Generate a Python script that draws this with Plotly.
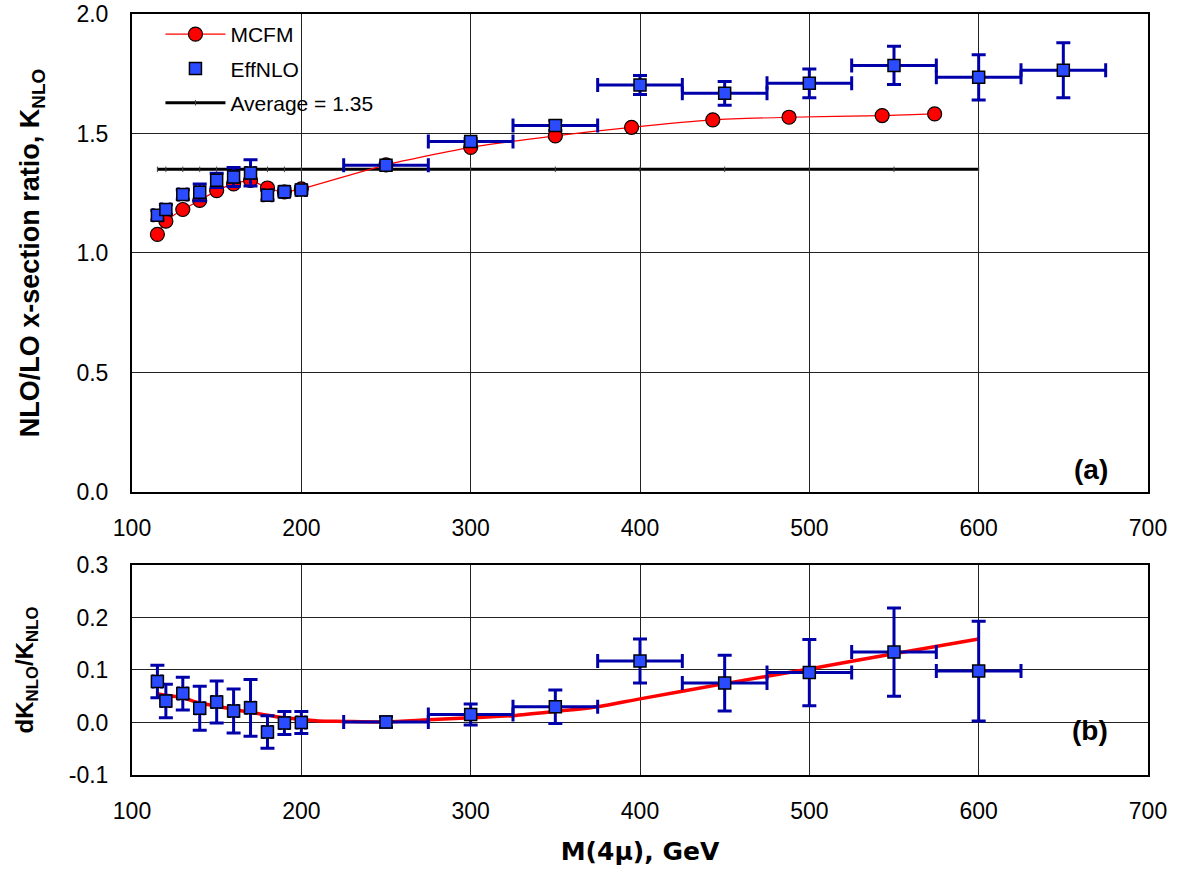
import plotly.graph_objects as go

# ---------------- data ----------------
# panel (a): K-factor
mcfm_mass = [115, 120, 130, 140, 150, 160, 170, 180, 190, 200, 250, 300, 350, 395, 443, 488, 543, 574]
mcfm_k = [1.078, 1.133, 1.182, 1.220, 1.261, 1.289, 1.304, 1.272, 1.256, 1.268, 1.369, 1.442, 1.490,
          1.526, 1.557, 1.568, 1.575, 1.582]

eff_mass = [115, 120, 130, 140, 150, 160, 170, 180, 190, 200, 250, 300, 350, 400, 450, 500, 550, 600, 650]
eff_k = [1.158, 1.182, 1.245, 1.254, 1.304, 1.318, 1.335, 1.242, 1.256, 1.264, 1.367, 1.467, 1.533,
         1.703, 1.668, 1.710, 1.785, 1.735, 1.765]
eff_k_err = [0.02, 0.02, 0.02, 0.035, 0.03, 0.04, 0.055, 0.02, 0.015, 0.015, 0.012, 0.012, 0.02,
             0.04, 0.05, 0.06, 0.08, 0.095, 0.115]
eff_mass_err = [2.5, 2.5, 2.5, 2.5, 2.5, 2.5, 2.5, 2.5, 2.5, 2.5, 25, 25, 25, 25, 25, 25, 25, 25, 25]

avg_mass = [115, 120, 130, 140, 150, 160, 170, 180, 190, 200, 250, 300, 350, 400, 450, 500, 550, 600]
avg_k = [1.35, 1.35, 1.35, 1.35, 1.35, 1.35, 1.35, 1.35, 1.35, 1.35, 1.35, 1.35, 1.35, 1.35, 1.35,
         1.35, 1.35, 1.35]

# panel (b): relative uncertainty dK/K
dk_mass = [115, 120, 130, 140, 150, 160, 170, 180, 190, 200, 250, 300, 350, 400, 450, 500, 550, 600]
dk_rel = [0.078, 0.041, 0.055, 0.027, 0.039, 0.022, 0.028, -0.018, -0.001, 0.0, 0.001, 0.015, 0.030,
          0.117, 0.075, 0.095, 0.134, 0.098]
dk_rel_err = [0.031, 0.032, 0.031, 0.042, 0.040, 0.042, 0.054, 0.031, 0.022, 0.021, 0.01, 0.02, 0.032,
              0.042, 0.053, 0.063, 0.084, 0.095]
dk_mass_err = [2.5, 2.5, 2.5, 2.5, 2.5, 2.5, 2.5, 2.5, 2.5, 2.5, 25, 25, 25, 25, 25, 25, 25, 25]

fit_mass = [115, 120, 130, 140, 150, 160, 170, 180, 190, 200, 210, 225, 250, 275, 300, 325, 350, 375,
            400, 450, 500, 550, 600]
fit_rel = [0.055, 0.052, 0.047, 0.037, 0.031, 0.025, 0.019, 0.014, 0.009, 0.006, 0.003, 0.002, 0.001,
           0.005, 0.009, 0.013, 0.021, 0.030, 0.045, 0.074, 0.102, 0.131, 0.159]

x_ticks = [100, 200, 300, 400, 500, 600, 700]
ya_ticks = [0.0, 0.5, 1.0, 1.5, 2.0]
ya_labels = ["0.0", "0.5", "1.0", "1.5", "2.0"]
yb_ticks = [-0.1, 0.0, 0.1, 0.2, 0.3]
yb_labels = ["-0.1", "0.0", "0.1", "0.2", "0.3"]

# ---------------- styles ----------------
FONT = "Liberation Sans, Arial, sans-serif"
WIDE_BOLD = "DejaVu Sans, Liberation Sans, sans-serif"
RED = "#FF0000"
BLUE_FILL = "#2A4BFF"
ERR_BLUE = "#0000AA"

fig = go.Figure()

# Average line (panel a)
fig.add_trace(go.Scatter(
    x=avg_mass, y=avg_k, mode="lines+markers", name="Average = 1.35",
    line=dict(color="black", width=3),
    marker=dict(symbol="line-ns", size=4, line=dict(color="#444", width=1)),
    xaxis="x", yaxis="y", legendgroup="c", legendrank=3,
))

# MCFM (panel a)
fig.add_trace(go.Scatter(
    x=mcfm_mass, y=mcfm_k, mode="lines+markers", name="MCFM",
    line=dict(color=RED, width=1.2, shape="spline", smoothing=0.6),
    marker=dict(symbol="circle", size=14, color=RED, line=dict(color="black", width=1.2)),
    xaxis="x", yaxis="y", legendgroup="a", legendrank=1,
))

# EffNLO (panel a)
fig.add_trace(go.Scatter(
    x=eff_mass, y=eff_k, mode="markers", name="EffNLO",
    marker=dict(symbol="square", size=12, color=BLUE_FILL, line=dict(color="black", width=1.5)),
    error_y=dict(type="data", array=eff_k_err, color=ERR_BLUE, thickness=3, width=7),
    error_x=dict(type="data", array=eff_mass_err, color=ERR_BLUE, thickness=3, width=7),
    xaxis="x", yaxis="y", legendgroup="b", legendrank=2,
))

# Fit (panel b)
fig.add_trace(go.Scatter(
    x=fit_mass, y=fit_rel, mode="lines", showlegend=False,
    line=dict(color=RED, width=3.5, shape="spline", smoothing=0.8),
    xaxis="x2", yaxis="y2",
))

# dK/K (panel b)
fig.add_trace(go.Scatter(
    x=dk_mass, y=dk_rel, mode="markers", showlegend=False,
    marker=dict(symbol="square", size=12, color=BLUE_FILL, line=dict(color="black", width=1.5)),
    error_y=dict(type="data", array=dk_rel_err, color=ERR_BLUE, thickness=3, width=7),
    error_x=dict(type="data", array=dk_mass_err, color=ERR_BLUE, thickness=3, width=7),
    xaxis="x2", yaxis="y2",
))

axis_common = dict(
    showgrid=True, gridcolor="#222", gridwidth=1,
    showline=True, linecolor="black", linewidth=2, mirror=True,
    zeroline=False, ticks="", automargin=False, ticklabeloverflow="allow",
    tickfont=dict(family=FONT, size=23, color="black"),
)

top_dom = [0.3719, 1.0]
bot_dom = [0.0, 0.2760]

fig.update_layout(
    width=1180, height=874,
    margin=dict(l=132, r=32, t=14, b=99),
    paper_bgcolor="white", plot_bgcolor="white",
    font=dict(family=FONT, color="black"),
    xaxis=dict(domain=[0, 1], anchor="y", range=[100, 700], tickvals=x_ticks,
               ticklabelstandoff=14, **axis_common),
    yaxis=dict(domain=top_dom, anchor="x", range=[0, 2.0], tickvals=ya_ticks, ticktext=ya_labels,
               ticklabelstandoff=17,
               title=dict(text="<b>NLO/LO x-section ratio, K<sub>NLO</sub></b>",
                          font=dict(family=FONT, size=27), standoff=29),
               **axis_common),
    xaxis2=dict(domain=[0, 1], anchor="y2", range=[100, 700], tickvals=x_ticks,
                ticklabelstandoff=14,
                title=dict(text="<b>M(4μ), GeV</b>", font=dict(family=WIDE_BOLD, size=25), standoff=20),
                **axis_common),
    yaxis2=dict(domain=bot_dom, anchor="x2", range=[-0.1, 0.3], tickvals=yb_ticks, ticktext=yb_labels,
                ticklabelstandoff=17,
                title=dict(text="<b>dK<sub>NLO</sub>/K<sub>NLO</sub></b>",
                           font=dict(family=FONT, size=24), standoff=28),
                **axis_common),
    legend=dict(x=0.028, y=1.0, xanchor="left", yanchor="top",
                bgcolor="rgba(0,0,0,0)", borderwidth=0,
                font=dict(family=FONT, size=21, color="black"),
                tracegroupgap=4, itemwidth=60),
    showlegend=True,
    annotations=[
        dict(text="<b>(a)</b>", x=0.9626, y=0.4008, xref="paper", yref="paper",
             showarrow=False, font=dict(family=FONT, size=28, color="black")),
        dict(text="<b>(b)</b>", x=0.9626, y=0.0355, xref="paper", yref="paper",
             showarrow=False, font=dict(family=FONT, size=28, color="black")),
    ],
)

fig.write_html("out.html")
